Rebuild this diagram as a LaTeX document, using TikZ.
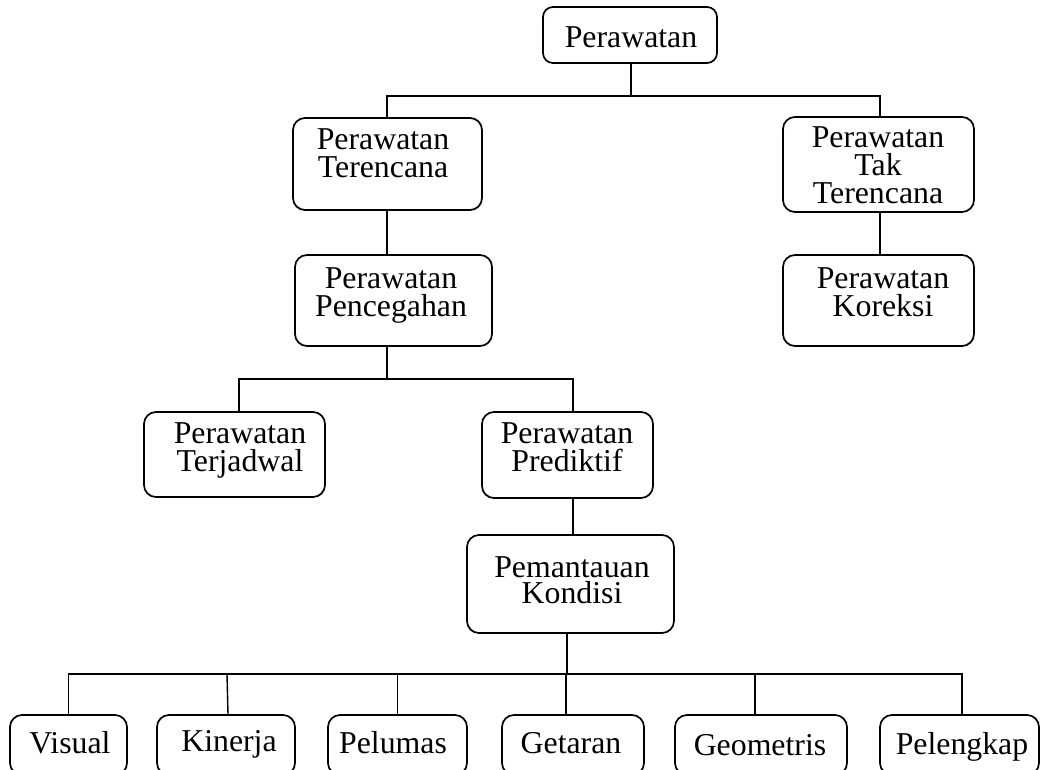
\documentclass[tikz,border=0pt]{standalone}
\usepackage{fontspec}
\setmainfont{Liberation Serif}
\begin{document}
\begin{tikzpicture}[x=1pt,y=-1pt,
  box/.style={draw=black, line width=1.7pt, rounded corners=12pt, inner sep=0pt},
  conn/.style={draw=black, line width=1.4pt},
  txt/.style={font=\fontsize{31.8}{28}\selectfont, inner sep=0pt, align=center}]
\useasboundingbox (0,0) rectangle (1041,769);
\fill[white] (0,0) rectangle (1041,769);
\clip (0,0) rectangle (1041,769);
% boxes
\node[box, rounded corners=10pt, minimum width=174pt, minimum height=56pt] (top) at (630,35) {};
\node[box, minimum width=189pt, minimum height=92pt] (ter) at (387.5,164) {};
\node[box, minimum width=191pt, minimum height=95pt] (tak) at (878.5,164.5) {};
\node[box, minimum width=197pt, minimum height=91pt] (cgh) at (393.5,300.5) {};
\node[box, minimum width=191pt, minimum height=91pt] (kor) at (878.5,300.5) {};
\node[box, minimum width=181pt, minimum height=85pt] (jad) at (234.5,454.5) {};
\node[box, minimum width=171pt, minimum height=86pt] (pre) at (567.5,455) {};
\node[box, minimum width=207pt, minimum height=98pt] (kon) at (570.5,584) {};
\node[box, minimum width=117pt, minimum height=60pt] (vis) at (68.5,745) {};
\node[box, minimum width=138pt, minimum height=60pt] (kin) at (226,745) {};
\node[box, minimum width=139pt, minimum height=60pt] (pel) at (397.5,745) {};
\node[box, minimum width=142pt, minimum height=60pt] (get) at (573,745) {};
\node[box, minimum width=172pt, minimum height=60pt] (geo) at (761,745) {};
\node[box, minimum width=159pt, minimum height=60pt] (plk) at (959.5,745) {};
% texts
\node[txt, anchor=base] (ttop) at (631,47) {Perawatan};
\node[txt, anchor=north] (tter) at (383,128) {Perawatan\\Terencana};
\node[txt, anchor=north] (ttak) at (878,126) {Perawatan\\Tak\\Terencana};
\node[txt, anchor=north] (tcgh) at (391,267) {Perawatan\\Pencegahan};
\node[txt, anchor=north] (tkor) at (883,267) {Perawatan\\Koreksi};
\node[txt, anchor=north] (tjad) at (240,422) {Perawatan\\Terjadwal};
\node[txt, anchor=north] (tpre) at (567,422) {Perawatan\\Prediktif};
\node[txt, anchor=north, font=\fontsize{31.8}{26.5}\selectfont] (tkon) at (572,556) {Pemantauan\\Kondisi};
\node[txt, anchor=base] (tvis) at (70,753) {Visual};
\node[txt, anchor=base] (tkin) at (229,751) {Kinerja};
\node[txt, anchor=base] (tpel) at (393,753) {Pelumas};
\node[txt, anchor=base] (tget) at (571,753) {Getaran};
\node[txt, anchor=base] (tgeo) at (760,755) {Geometris};
\node[txt, anchor=base] (tplk) at (962,754) {Pelengkap};
% connectors
\coordinate (j1) at ([xshift=1pt]top.south |- 0,96);
\draw[conn] ([xshift=1pt]top.south) -- (j1);
\draw[conn] ([xshift=-0.5pt]ter.north) |- (j1) -| ([xshift=1.5pt]tak.north);
\draw[conn] ([xshift=-0.5pt]ter.south) -- ([xshift=-0.5pt]ter.south |- cgh.north);
\draw[conn] ([xshift=1.5pt]tak.south) -- ([xshift=1.5pt]kor.north);
\coordinate (j2) at ([xshift=-6.5pt]cgh.south |- 0,379);
\draw[conn] ([xshift=-6.5pt]cgh.south) -- (j2);
\draw[conn] ([xshift=4.5pt]jad.north) |- (j2) -| ([xshift=5.5pt]pre.north);
\draw[conn] ([xshift=5.5pt]pre.south) -- ([xshift=5.5pt]pre.south |- kon.north);
\coordinate (j3) at ([xshift=-3.5pt]kon.south |- 0,674);
\draw[conn] ([xshift=-3.5pt]kon.south) -- (j3);
\draw[conn] (vis.north) |- (j3) -| ([xshift=2.5pt]plk.north);
\draw[conn] ([xshift=1pt]kin.north |- j3) -- ([xshift=2pt]kin.north);
\draw[conn] (pel.north |- j3) -- (pel.north);
\draw[conn] ([xshift=-7pt]get.north |- j3) -- ([xshift=-7pt]get.north);
\draw[conn] ([xshift=-6pt]geo.north |- j3) -- ([xshift=-6pt]geo.north);
\end{tikzpicture}
\end{document}
